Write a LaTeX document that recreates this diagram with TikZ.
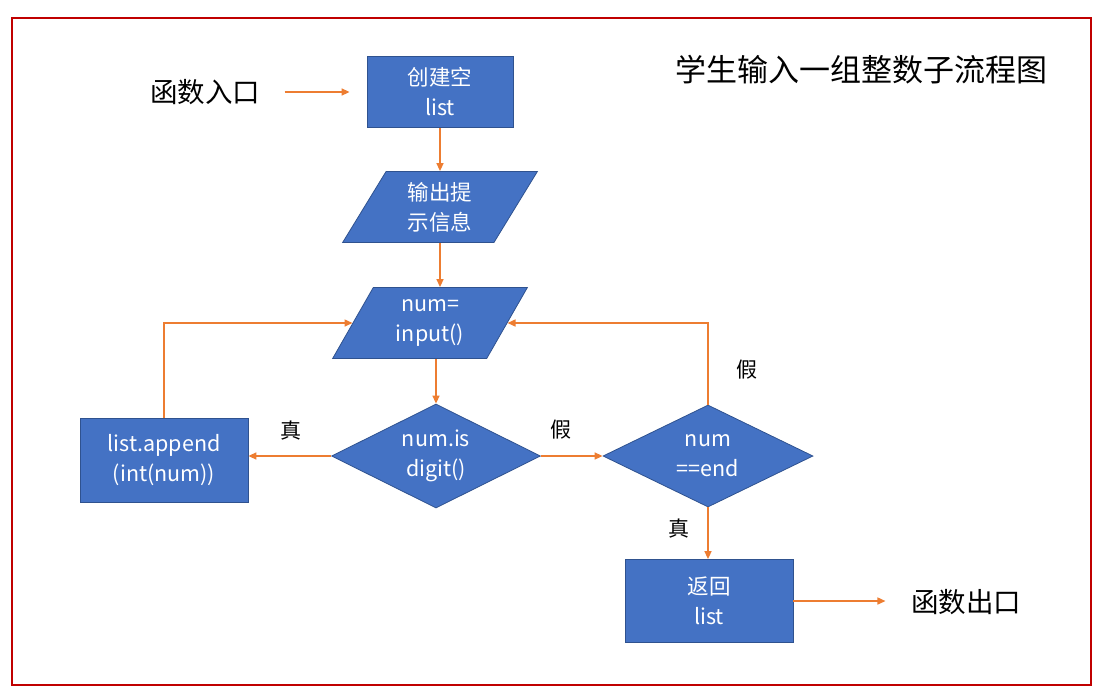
\documentclass[tikz,border=0pt]{standalone}
\usepackage{fontspec}
\setmainfont{Noto Sans CJK SC}
\usetikzlibrary{shapes.geometric,arrows.meta}

\definecolor{boxblue}{HTML}{4472C4}
\definecolor{boxline}{HTML}{2F528F}
\definecolor{floworange}{HTML}{ED7D31}
\definecolor{framered}{HTML}{C00000}

\tikzset{
  box/.style={rectangle, fill=boxblue, draw=boxline, line width=0.8pt,
    text=white, align=center, font=\fontsize{21.5}{30}\selectfont},
  iobox/.style={box, trapezium, trapezium stretches=true,
    trapezium left angle=62.5, trapezium right angle=117.5,
    minimum width=195pt, minimum height=71pt, inner sep=0pt},
  decide/.style={box, diamond, shape aspect=2, inner sep=0pt},
  flow/.style={draw=floworange, line width=1.5pt,
    -{Triangle[length=8pt,width=7pt]}},
  lbl/.style={font=\fontsize{21}{24}\selectfont},
  big/.style={font=\fontsize{27.5}{30}\selectfont}
}

\begin{document}
\begin{tikzpicture}[x=1pt,y=-1pt]
    \useasboundingbox (0,0) rectangle (1107,697);
    \draw[framered, line width=1.5pt] (12,18) rectangle (1091,685);

    \node[font=\fontsize{31}{34}\selectfont] (title) at (861,70) {学生输入一组整数子流程图};
    \node[big] (entry) at (205,92) {函数入口};
    \node[big] (exit) at (966,602) {函数出口};

    \node[box, minimum width=146pt, minimum height=71pt] (create) at (440,92) {创建空\\list};
    \node[iobox] (prompt) at (440,207) {输出提\\示信息};
    \node[iobox] (input) at (430,323) {num=\\input()};
    \node[decide, minimum width=209pt, minimum height=104pt] (digit) at (436,456) {num.is\\digit()};
    \node[decide, minimum width=210pt, minimum height=102pt] (isend) at (708,456) {num\\==end};
    \node[box, minimum width=168pt, minimum height=84pt] (app) at (164,460) {list.append\\(int(num))};
    \node[box, minimum width=168pt, minimum height=83pt] (ret) at (709,601) {返回\\list};

    % connectors
    \draw[flow, shorten <=21pt, shorten >=17pt] (entry.east) -- (create.west);
    \draw[flow] (create) -- (prompt);
    \draw[flow] (prompt.south) -- (input.north -| prompt.south);
    \draw[flow] (digit.north |- input.south) -- (digit.north);
    \draw[flow] (digit.west) -- (digit.west -| app.east) node[lbl, pos=0.48, above=12pt] {真};
    \draw[flow] (digit.east) -- (isend.west) node[lbl, pos=0.33, above=13pt] {假};
    \draw[flow] (app.north) |- (input.west);
    \draw[flow] (isend.north) |- (input.east) node[lbl, pos=0.216, right=24pt] {假};
    \draw[flow] (isend.south) -- (ret.north -| isend.south) node[lbl, pos=0.4, left=14pt] {真};
    \draw[flow, shorten >=22pt] (ret.east) -- (ret.east -| exit.west);
\end{tikzpicture}
\end{document}
